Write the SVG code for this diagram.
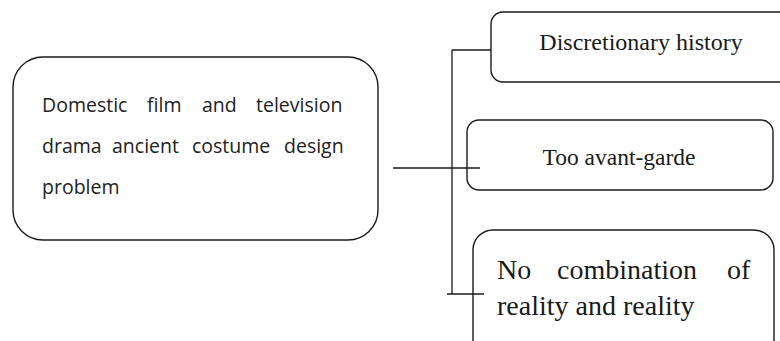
<svg xmlns="http://www.w3.org/2000/svg" width="780" height="341" viewBox="0 0 780 341">
  <style>
    .box { fill: #ffffff; stroke: #1a1a1a; stroke-width: 1.4; }
    .link { fill: none; stroke: #1a1a1a; stroke-width: 1.3; }
    .sans { font-family: "Open Sans", "DejaVu Sans", sans-serif; font-size: 19.5px; fill: #222222; }
    .serif { font-family: "Liberation Serif", "Times New Roman", serif; fill: #1a1a1a; }
  </style>
  <rect width="780" height="341" fill="#ffffff"/>

  <!-- main topic -->
  <g id="node-main">
    <rect class="box" x="13" y="57" width="365" height="183" rx="30" ry="30"/>
    <text class="sans" y="112">
      <tspan x="42">Domestic</tspan><tspan x="147">film</tspan><tspan x="202">and</tspan><tspan x="256">television</tspan>
    </text>
    <text class="sans" y="153">
      <tspan x="42">drama</tspan><tspan x="112">ancient</tspan><tspan x="192">costume</tspan><tspan x="284">design</tspan>
    </text>
    <text class="sans" x="42" y="194">problem</text>
  </g>

  <!-- branch: discretionary history -->
  <g id="node-history">
    <rect class="box" x="491" y="12" width="300" height="70" rx="12" ry="12"/>
    <text class="serif" x="641" y="50" font-size="24" text-anchor="middle">Discretionary history</text>
  </g>

  <!-- branch: too avant-garde -->
  <g id="node-avant">
    <rect class="box" x="467" y="120" width="306" height="70" rx="12" ry="12"/>
    <text class="serif" x="619" y="165" font-size="23.5" text-anchor="middle">Too avant-garde</text>
  </g>

  <!-- branch: no combination -->
  <g id="node-combination">
    <rect class="box" x="473" y="230" width="301" height="130" rx="20" ry="20"/>
    <text class="serif" y="279" font-size="28">
      <tspan x="497">No</tspan><tspan x="557">combination</tspan><tspan x="727">of</tspan>
    </text>
    <text class="serif" x="497" y="315" font-size="28">reality and reality</text>
  </g>

  <!-- connectors, drawn over the box edges -->
  <g id="connectors">
    <path class="link" d="M393 168 H480"/>
    <path class="link" d="M452 50 V294"/>
    <path class="link" d="M452 50 H491"/>
    <path class="link" d="M447 294 H484"/>
  </g>
</svg>
